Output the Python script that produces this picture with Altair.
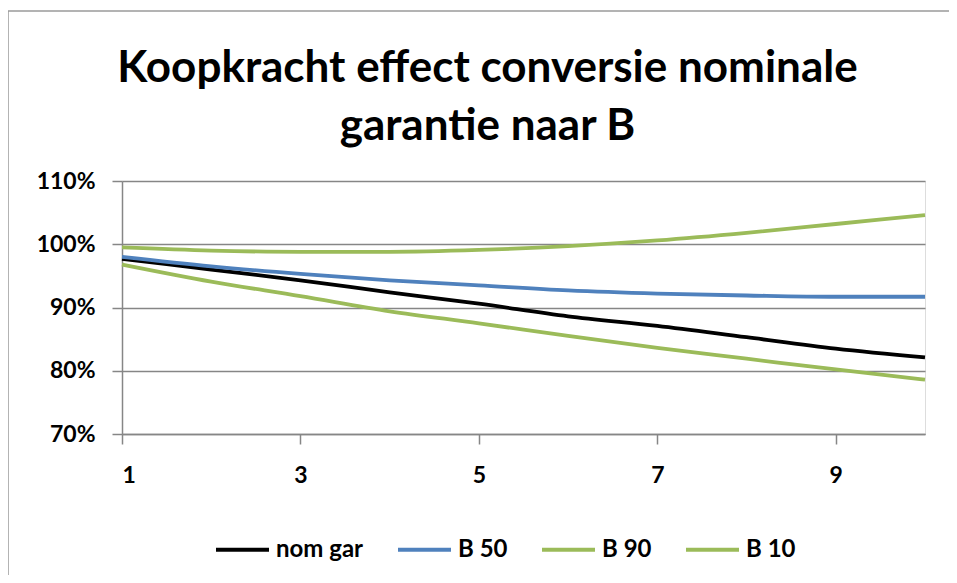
import altair as alt
import pandas as pd

years = [1, 2, 3, 4, 5, 6, 7, 8, 9, 10]
nom_gar = [97.7, 96.0, 94.3, 92.4, 90.6, 88.6, 87.1, 85.3, 83.5, 82.1]
b50 = [98.0, 96.5, 95.3, 94.3, 93.5, 92.7, 92.2, 91.9, 91.7, 91.7]
b90 = [99.5, 99.0, 98.8, 98.8, 99.1, 99.7, 100.6, 101.8, 103.2, 104.6]
b10 = [96.8, 94.1, 91.8, 89.4, 87.5, 85.5, 83.6, 81.9, 80.2, 78.6]

series_names = ["nom gar", "B 50", "B 90", "B 10"]
series_colors = ["#000000", "#4F81BD", "#9BBB59", "#9BBB59"]
x_ticks = [1, 3, 5, 7, 9]
y_ticks = [0.7, 0.8, 0.9, 1.0, 1.1]

rows = []
for name, vals in zip(series_names, [nom_gar, b50, b90, b10]):
    for yr, v in zip(years, vals):
        rows.append({"jaar": yr, "waarde": v / 100.0, "reeks": name})
df = pd.DataFrame(rows)

W, H = 803, 253
FONT = "Lato"

lines = alt.Chart(df).mark_line(strokeWidth=3.8, interpolate="monotone").encode(
    x=alt.X("jaar:Q", scale=alt.Scale(domain=[1, 10], nice=False),
            axis=alt.Axis(values=x_ticks, title=None, grid=False, tickSize=10,
                          labelPadding=20, domainColor="#868686", tickColor="#868686",
                          labelFont=FONT, labelFontSize=23, labelFontWeight="bold",
                          labelColor="#000000", domainWidth=1.5, tickWidth=1.5)),
    y=alt.Y("waarde:Q", scale=alt.Scale(domain=[0.7, 1.1], nice=False, zero=False),
            axis=alt.Axis(values=y_ticks, format=".0%", title=None, grid=True,
                          gridColor="#868686", gridWidth=1.5, tickSize=10,
                          labelPadding=17, domainColor="#868686", tickColor="#868686",
                          labelFont=FONT, labelFontSize=23, labelFontWeight="bold",
                          labelColor="#000000", domainWidth=1.5, tickWidth=1.5)),
    color=alt.Color("reeks:N", sort=series_names,
                    scale=alt.Scale(domain=series_names, range=series_colors),
                    legend=alt.Legend(title=None, orient="none", direction="horizontal",
                                      legendX=92, legendY=340, symbolType="stroke",
                                      symbolSize=2809, symbolStrokeWidth=4,
                                      labelFont=FONT, labelFontSize=24, labelFontWeight="bold",
                                      labelColor="#000000", labelOffset=5, columnPadding=26)),
    detail="reeks:N",
)

edge = pd.DataFrame({"a": [0]})
top_edge = alt.Chart(edge).mark_rule(stroke="#9a9a9a", strokeWidth=1.5).encode(
    x=alt.value(-114), x2=alt.value(W + 80), y=alt.value(-170))
left_edge = alt.Chart(edge).mark_rule(stroke="#9a9a9a", strokeWidth=1.5).encode(
    x=alt.value(-114), y=alt.value(-170), y2=alt.value(H + 250))

chart = alt.layer(top_edge, left_edge, lines).properties(
    width=W, height=H,
    padding={"left": 114, "top": 173, "right": 24, "bottom": 141},
    autosize=alt.AutoSizeParams(type="none"),
    title=alt.TitleParams(["Koopkracht effect conversie nominale", "garantie naar B"],
                          font=FONT, fontSize=44, fontWeight="bold", color="#000000",
                          anchor="middle", dx=-36, dy=139, offset=0, lineHeight=58),
).configure_view(stroke=None).configure(background="#ffffff")

chart.save("out.html", embed_options={"renderer": "svg", "actions": False})
